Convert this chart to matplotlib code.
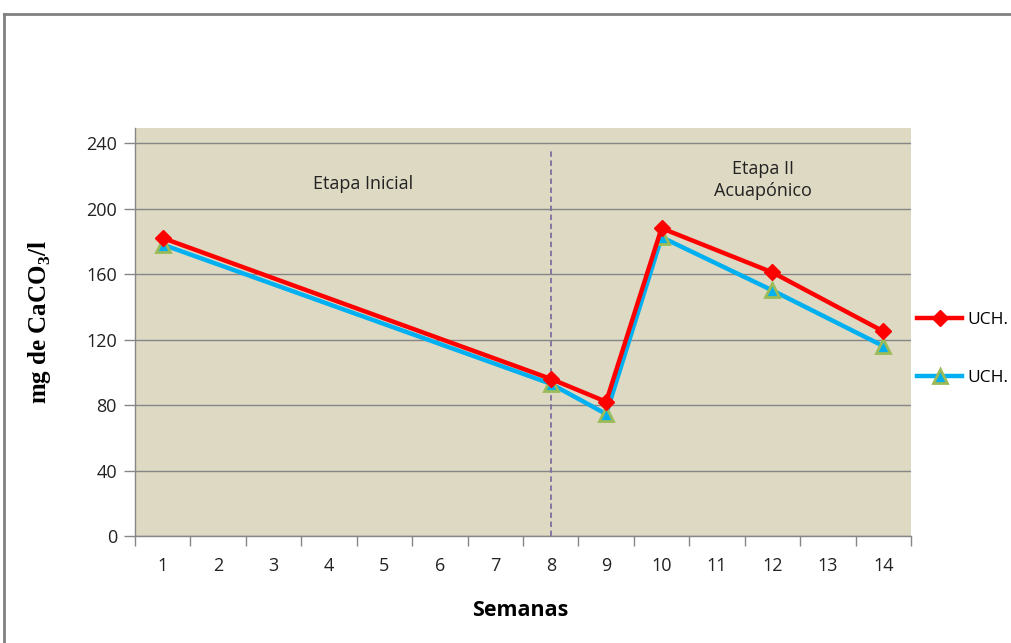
import numpy as np
import matplotlib
matplotlib.use('Agg')
from matplotlib import pyplot as plt
from matplotlib.lines import Line2D

# weeks sampled and carbonate hardness (mg CaCO3/l) for each unit
semanas = [1, 8, 9, 10, 12, 14]
uch_a = [182, 96, 82, 188, 161, 125]
uch_b = [178, 93, 74.5, 182.5, 150, 116]
etiquetas = [str(i) for i in range(1, 15)]
nombres = ['UCH.', 'UCH.']

plt.rcParams['mathtext.fontset'] = 'custom'
plt.rcParams['mathtext.rm'] = 'Liberation Serif:bold'
plt.rcParams['mathtext.bf'] = 'Liberation Serif:bold'

fig = plt.figure(figsize=(10.11, 6.43), dpi=100)
W, H = 1011, 643
ax = fig.add_axes([135 / W, 1 - 536 / H, (911 - 135) / W, (536 - 128) / H])
ax.set_facecolor('#DDD9C3')

ax.set_xlim(0.5, 14.5)
ax.set_ylim(0, 249.2)

ax.set_yticks(np.arange(0, 241, 40))
ax.yaxis.grid(True, color='#868686', linewidth=1.0)
ax.set_axisbelow(True)

ax.set_xticks(range(1, 15))
ax.set_xticklabels(etiquetas)
ax.set_xticks(np.arange(0.5, 14.6, 1), minor=True)
ax.tick_params(axis='x', which='major', length=0, pad=15, labelsize=13, colors='#222222')
ax.tick_params(axis='x', which='minor', length=7, color='#868686', width=1)
ax.tick_params(axis='y', length=8, color='#868686', width=1, pad=5, labelsize=13, labelcolor='#222222')
for lbl in ax.get_xticklabels() + ax.get_yticklabels():
    lbl.set_family('Open Sans')

for s in ['top', 'right']:
    ax.spines[s].set_visible(False)
for s in ['left', 'bottom']:
    ax.spines[s].set_color('#868686')
    ax.spines[s].set_linewidth(1.0)

# stage separator
ax.axvline(8, ymin=0, ymax=(536 - 150) / (536 - 128), color='#7F6F9F',
           linestyle=(0, (3, 2)), linewidth=1.3)

l1, = ax.plot(semanas, uch_a, color='#FF0000', linewidth=3.2, marker='D',
              markersize=8, markerfacecolor='#FF0000', markeredgecolor='#FF0000', zorder=4)
l2, = ax.plot(semanas, uch_b, color='#00B0F0', linewidth=3.2, marker='^',
              markersize=10, markerfacecolor='#00B0F0', markeredgecolor='#9BBB59',
              markeredgewidth=2, zorder=3)

ax.text(4.61, 215, 'Etapa Inicial', ha='center', va='center', fontsize=13,
        family='Open Sans', color='#222222')
ax.text(11.83, 217.5, 'Etapa II\nAcuapónico', ha='center', va='center', fontsize=13,
        family='Open Sans', color='#222222', linespacing=1.25)

fig.text(40 / W, 1 - 322 / H, r'mg de CaCO$_\mathbf{3}$/l', rotation=90, ha='center', va='center',
         fontsize=18, fontweight='bold', family='Liberation Serif')
fig.text(520 / W, 1 - 610 / H, 'Semanas', ha='center', va='center', fontsize=15.5,
         fontweight='bold', family='Open Sans')

fig.legend([l1, l2], nombres, loc='center left', bbox_to_anchor=(917 / W, 1 - 349 / H),
           frameon=False, handlelength=2.6, handletextpad=0.3, labelspacing=2.45,
           borderpad=0, borderaxespad=0, prop={'family': 'Open Sans', 'size': 12.5})

# outer chart border
fig.add_artist(Line2D([4 / W, 4 / W], [0, 1 - 14 / H], color='#808080', linewidth=2))
fig.add_artist(Line2D([4 / W, 1], [1 - 14 / H, 1 - 14 / H], color='#808080', linewidth=2))

fig.savefig('out.png', dpi=100)
